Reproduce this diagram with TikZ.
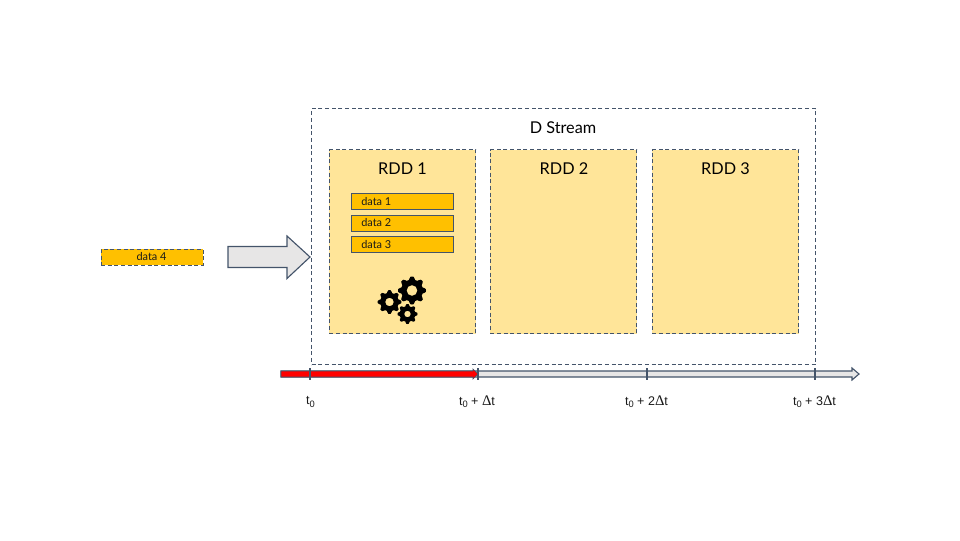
\documentclass[tikz,border=0pt]{standalone}
\usepackage{fontspec}
\setmainfont{Lato}
\newfontfamily\deltafont{Liberation Serif}
\newfontfamily\timefont{Liberation Sans}
\definecolor{edgeblue}{HTML}{44546A}
\definecolor{rddfill}{HTML}{FFE599}
\definecolor{datafill}{HTML}{FFC000}
\definecolor{arrowfill}{HTML}{E7E6E6}
\definecolor{inkdark}{HTML}{1A1A1A}
\newcommand{\px}[1]{\fontsize{#1}{#1}\selectfont}
\newcommand{\geardraw}[4]{% cx, cy, outer r, hole r
  \fill[black,even odd rule]
    plot[smooth cycle,tension=0.12,samples=64,domain=0:360-5.625,variable=\a]
      ({#1+(#3)*(0.89+0.11*max(-1,min(1,2.2*cos(8*\a))))*cos(\a)},{#2+(#3)*(0.89+0.11*max(-1,min(1,2.2*cos(8*\a))))*sin(\a)})
    (#1,#2) circle[radius=#4];}
\newcommand{\sub}{\raisebox{-0.35ex}{\px{7}0}}
\tikzset{
  x=0.75pt,y=-0.75pt,
  dashline/.style={dash pattern=on 3pt off 2pt},
  streambox/.style={draw=edgeblue,dashline,line width=0.65pt,fill=white,minimum width=504*0.75pt,minimum height=256*0.75pt,inner sep=0},
  rddbox/.style={draw=edgeblue,dashline,line width=0.65pt,fill=rddfill,minimum width=146.5*0.75pt,minimum height=184*0.75pt,inner sep=0},
  databox/.style={draw=edgeblue,line width=0.65pt,fill=datafill,minimum width=102*0.75pt,minimum height=16*0.75pt,inner sep=0},
  title/.style={font=\px{12.2},text=black,inner sep=0},
  small/.style={font=\px{8.2},text=inkdark,inner sep=0},
  tlabel/.style={font=\timefont\px{9.4},text=inkdark,inner sep=0},
  tick/.style={draw=edgeblue,line width=1.1pt},
  blockarrow/.style={draw=edgeblue,line width=0.85pt,fill=arrowfill,line join=miter},
}
\begin{document}
\begin{tikzpicture}
\useasboundingbox (0,0) rectangle (960,540);
\node[streambox] (stream) at (563.5,236.5) {};
\node[title] (streamt) at (563,127.8) {D Stream};
\node[rddbox] (rdd1) at (402.5,241.5) {};
\node[rddbox] (rdd2) at (563.5,241.5) {};
\node[rddbox] (rdd3) at (725.5,241.5) {};
\node[title] (rdd1t) at (402.5,168.3) {RDD 1};
\node[title] (rdd2t) at (564,168.3) {RDD 2};
\node[title] (rdd3t) at (725.5,168.3) {RDD 3};
\foreach \n/\y in {1/201.5,2/223,3/244.5}{
  \node[databox] (d\n) at (402,\y) {};
  \node[small,anchor=west] (d\n t) at (361,\y) {data \n};
}
\node[databox,dashline] (d4) at (152,257) {};
\node[small] (d4t) at (151.5,257) {data 4};
\filldraw[blockarrow] (228,246.5) -- (287,246.5) -- (287,236) -- (310,257) -- (287,278.5) -- (287,267.5) -- (228,267.5) -- cycle;
\geardraw{412}{290.5}{14}{5.4}
\geardraw{389.5}{302}{11.8}{4.3}
\geardraw{407.5}{314}{10}{3.3}
\filldraw[blockarrow] (281,371) -- (852,371) -- (852,368) -- (859,374) -- (852,380) -- (852,377) -- (281,377) -- cycle;
\filldraw[draw=edgeblue,line width=0.5pt,fill=red] (281,371) -- (473,371) -- (473,369) -- (478,374) -- (473,379) -- (473,377) -- (281,377) -- cycle;
\coordinate (t0a) at (310,368); \coordinate (t0b) at (310,380);
\coordinate (t1a) at (478,368); \coordinate (t1b) at (478,380);
\coordinate (t2a) at (647,368); \coordinate (t2b) at (647,380);
\coordinate (t3a) at (815,368); \coordinate (t3b) at (815,380);
\foreach \i in {0,1,2,3}{\draw[tick] (t\i a) -- (t\i b);}
\node[tlabel] (l0) at (310.5,402) {t\sub};
\node[tlabel] (l1) at (477,402) {t\sub{} + {\deltafont\px{11}Δ}t};
\node[tlabel] (l2) at (646.5,402) {t\sub{} + 2{\deltafont\px{11}Δ}t};
\node[tlabel] (l3) at (814.5,402) {t\sub{} + 3{\deltafont\px{11}Δ}t};
\end{tikzpicture}
\end{document}
